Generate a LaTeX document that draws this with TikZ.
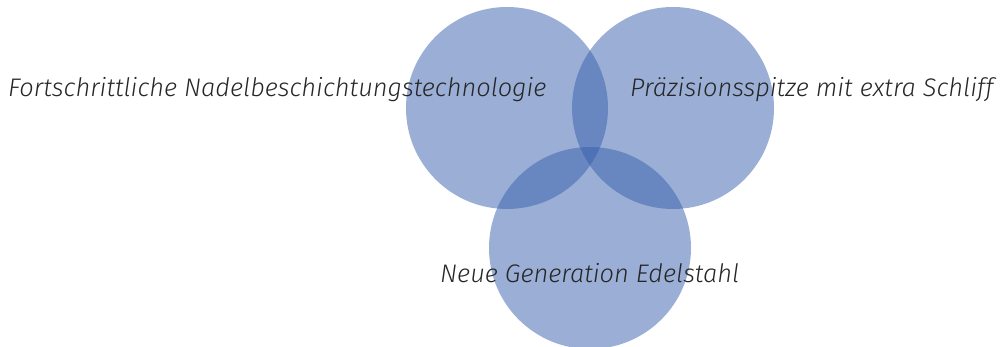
\documentclass[tikz,border=0pt]{standalone}
\usepackage{fontspec}
\setmainfont{Fira Sans Light}[ItalicFont={Fira Sans Light Italic}]
\definecolor{venn}{RGB}{55,95,173}
\definecolor{txt}{RGB}{38,38,38}
\tikzset{
  vennset/.style={circle, fill=venn, fill opacity=0.5, minimum size=202pt, inner sep=0pt},
  lbl/.style={font=\fontsize{25.4}{30}\selectfont\itshape, text=txt, inner sep=0pt}
}
\begin{document}
\begin{tikzpicture}[x=1pt,y=1pt]
\useasboundingbox (0,0) rectangle (1000,347);
\node[vennset] (a) at (507,239) {};
\node[vennset] (b) at (673,239) {};
\node[vennset] (c) at (590,99) {};
\node[lbl, anchor=base west] (ta) at (8,250) {Fortschrittliche Nadelbeschichtungstechnologie};
\node[lbl, anchor=base west] (tb) at (630,250) {Präzisionsspitze mit extra Schliff};
\node[lbl, anchor=base west] (tc) at (440,64) {Neue Generation Edelstahl};
\end{tikzpicture}
\end{document}
